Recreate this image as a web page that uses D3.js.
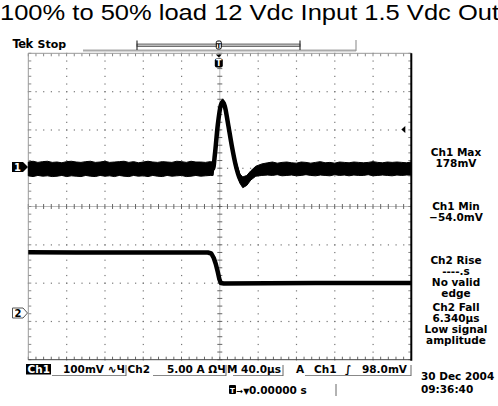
<!DOCTYPE html>
<html><head><meta charset="utf-8">
<script src="https://cdn.jsdelivr.net/npm/d3@7"></script>
<style>body{margin:0;background:#fff}svg{display:block}</style>
</head><body>
<svg id="c" width="498" height="406"></svg>
<script>
// ---- data ----
const title = "100% to 50% load 12 Vdc Input 1.5 Vdc Out";
// Ch1 (mV) envelope of noisy trace, time in µs (trigger at 0)
const ch1Time = [-200,-195,-190,-185,-180,-175,-170,-165,-160,-155,-150,-145,-140,-135,-130,-125,-120,-115,-110,-105,-100,-95,-90,-85,-80,-75,-70,-65,-60,-55,-50,-45,-40,-35,-30,-25,-20,-15,-10,
  -7,-5.2,-2.1,1.0,3.1,5.2,8.4,12.5,16.7,20.9,24.0,28.2,32.4,37.6,43.9,
  50,55,60,65,70,75,80,85,90,95,100,105,110,115,120,125,130,135,140,145,150,155,160,165,170,175,180,185,190,195,200];
const ch1Upper = [13,15,12,14,15,12,13,11,14,15,13,12,14,15,12,13,15,12,13,14,15,12,14,11,13,15,13,12,14,13,12,15,14,12,15,13,13,12,14,
  13,42,122,172,178,170,128,68,16,-18,-26,-22,-10,2,8,
  11,13,10,12,13,11,10,13,12,10,12,14,11,12,10,13,12,11,13,12,11,12,14,12,11,13,12,13,12,11,13];
const ch1Lower = [-23,-25,-22,-24,-23,-25,-24,-22,-25,-23,-24,-25,-22,-24,-25,-22,-24,-23,-25,-22,-24,-25,-22,-24,-23,-25,-22,-24,-25,-22,-24,-23,-22,-25,-24,-22,-24,-23,-22,
  -22,20,98,150,160,148,104,44,-8,-42,-54,-48,-34,-24,-22,
  -21,-22,-20,-23,-22,-21,-23,-22,-20,-22,-23,-21,-22,-23,-20,-22,-21,-23,-21,-22,-22,-20,-23,-22,-21,-22,-23,-21,-22,-21,-21];
// Ch2 (A)
const ch2Time = [-200,-150,-100,-50,-12.5,-8.9,-6.3,-4.2,-2.1,-0.5,1.0,4.2,50,100,150,200];
const ch2Amps = [7.92,7.90,7.91,7.90,7.90,7.77,7.18,6.40,5.35,4.44,3.92,3.86,3.90,3.91,3.92,3.92];
const trigLevel = 98; // mV
const measureLines = [["Ch1 Max","178mV"],["Ch1 Min","\u221254.0mV"],["Ch2 Rise","----.s","No valid","edge"],["Ch2 Fall","6.340\u00b5s","Low signal","amplitude"]];
const dateLines = ["30 Dec  2004","09:36:40"];

// ---- geometry ----
const L = 28.3, R = 411.3, T = 53.3, B = 359.7;
const div = (R - L) / 10;
const svg = d3.select("#c");
const x = d3.scaleLinear().domain([-200, 200]).range([L, R]);
const yDiv = d3.scaleLinear().domain([4, -4]).range([T, B]);
const ch1Zero = 167, ch2Zero = 313;
const y1 = d3.scaleLinear().domain([0, 100]).range([ch1Zero, ch1Zero - div]);
const y2 = d3.scaleLinear().domain([0, 5]).range([ch2Zero, ch2Zero - div]);
const font = "DejaVu Sans, sans-serif";

// title
svg.append("text").attr("x", 0).attr("y", 20).attr("font-family", "Liberation Sans, Arial, sans-serif")
  .attr("font-size", 22).attr("textLength", 499).attr("lengthAdjust", "spacingAndGlyphs").attr("fill", "#000").text(title);

// grid dots
const g = svg.append("g");
const majorT = d3.range(-200, 201, 40);
const minorT = d3.range(-200, 200.1, 8);
const majorV = d3.range(-4, 4.01, 1);
const minorV = d3.range(-4, 4.01, 0.2);
majorT.filter(t => t !== 0 && t !== -200 && t !== 200).forEach(t => {
  g.selectAll(null).data(minorV).enter().append("rect")
    .attr("x", x(t) - 0.5).attr("y", d => yDiv(d) - 0.5).attr("width", 1.2).attr("height", 1.2).attr("fill", "#777");
});
majorV.filter(v => v !== 0 && Math.abs(v) !== 4).forEach(v => {
  g.selectAll(null).data(minorT).enter().append("rect")
    .attr("x", d => x(d) - 0.5).attr("y", yDiv(v) - 0.5).attr("width", 1.2).attr("height", 1.2).attr("fill", "#777");
});
// center cross lines with ticks
g.append("line").attr("x1", L).attr("x2", R).attr("y1", yDiv(0)).attr("y2", yDiv(0)).attr("stroke", "#bbb").attr("stroke-width", 1);
g.append("line").attr("x1", x(0)).attr("x2", x(0)).attr("y1", T).attr("y2", B).attr("stroke", "#bbb").attr("stroke-width", 1);
g.selectAll(null).data(minorT).enter().append("line")
  .attr("x1", d => x(d)).attr("x2", d => x(d)).attr("y1", yDiv(0) - 2.5).attr("y2", yDiv(0) + 2.5).attr("stroke", "#666");
g.selectAll(null).data(minorV).enter().append("line")
  .attr("y1", d => yDiv(d)).attr("y2", d => yDiv(d)).attr("x1", x(0) - 2.5).attr("x2", x(0) + 2.5).attr("stroke", "#666");
// edge ticks
g.selectAll(null).data(minorT).enter().append("line")
  .attr("x1", d => x(d)).attr("x2", d => x(d)).attr("y1", T).attr("y2", T + 3).attr("stroke", "#888");
g.selectAll(null).data(minorT).enter().append("line")
  .attr("x1", d => x(d)).attr("x2", d => x(d)).attr("y1", B).attr("y2", B - 3).attr("stroke", "#666");
g.selectAll(null).data(minorV).enter().append("line")
  .attr("y1", d => yDiv(d)).attr("y2", d => yDiv(d)).attr("x1", L).attr("x2", L + 3).attr("stroke", "#888");
g.selectAll(null).data(minorV).enter().append("line")
  .attr("y1", d => yDiv(d)).attr("y2", d => yDiv(d)).attr("x1", R).attr("x2", R - 3).attr("stroke", "#888");
// frame
g.append("line").attr("x1", L).attr("x2", R).attr("y1", T).attr("y2", T).attr("stroke", "#999");
g.append("line").attr("x1", L).attr("x2", L).attr("y1", T).attr("y2", B).attr("stroke", "#999");
g.append("line").attr("x1", L).attr("x2", R).attr("y1", B).attr("y2", B).attr("stroke", "#444");
g.append("line").attr("x1", R).attr("x2", R).attr("y1", T).attr("y2", B + 1).attr("stroke", "#000").attr("stroke-width", 2);

// Ch1 trace (noise envelope)
const ch1 = ch1Time.map((t, i) => ({t, u: ch1Upper[i], l: ch1Lower[i]}));
svg.append("path").datum(ch1)
  .attr("d", d3.area().x(d => x(d.t)).y0(d => y1(d.l)).y1(d => y1(d.u)))
  .attr("fill", "#000").attr("stroke", "#000").attr("stroke-width", 1).attr("stroke-linejoin", "round");
svg.append("path").datum(ch1)
  .attr("d", d3.line().x(d => x(d.t)).y(d => y1((d.u + d.l) / 2)).curve(d3.curveMonotoneX))
  .attr("fill", "none").attr("stroke", "#000").attr("stroke-width", 4.5).attr("stroke-linejoin", "round");

// Ch2 trace
svg.append("path").datum(ch2Time.map((t, i) => ({t, a: ch2Amps[i]})))
  .attr("d", d3.line().x(d => x(d.t)).y(d => y2(d.a)))
  .attr("fill", "none").attr("stroke", "#000").attr("stroke-width", 4.5).attr("stroke-linejoin", "round");

// channel markers
const m1 = svg.append("g").attr("transform", `translate(0,${ch1Zero})`);
m1.append("path").attr("d", "M12,-5 H23 L28,0 L23,5 H12 Z").attr("fill", "#000");
m1.append("text").attr("x", 17.5).attr("y", 3.8).attr("text-anchor", "middle").attr("font-family", font).attr("font-weight", "bold").attr("font-size", 10).attr("fill", "#fff").text("1");
const m2 = svg.append("g").attr("transform", `translate(0,${ch2Zero})`);
m2.append("path").attr("d", "M12.5,-5 H23 L27.5,0 L23,5 H12.5 Z").attr("fill", "#fff").attr("stroke", "#555");
m2.append("text").attr("x", 18).attr("y", 3.8).attr("text-anchor", "middle").attr("font-family", font).attr("font-weight", "bold").attr("font-size", 10).attr("fill", "#000").text("2");
// trigger level marker
svg.append("path").attr("transform", `translate(${R - 10},${y1(trigLevel)})`).attr("d", "M0,0 L4,-3.5 L4,3.5 Z").attr("fill", "#000");
// trigger position marker (inside top)
const tx = x(0) - 1;
svg.append("path").attr("d", `M${tx - 3},54.5 L${tx + 3},54.5 L${tx},57.5 Z`).attr("fill", "#000");
svg.append("rect").attr("x", tx - 4).attr("y", 58.5).attr("width", 8).attr("height", 9).attr("rx", 2).attr("fill", "#000");
svg.append("text").attr("x", tx).attr("y", 66).attr("text-anchor", "middle").attr("font-family", font).attr("font-weight", "bold").attr("font-size", 8).attr("fill", "#fff").text("T");

// top bar
svg.append("text").attr("x", 12.5).attr("y", 48).attr("font-family", font).attr("font-weight", "bold").attr("font-size", 11.5).attr("letter-spacing", -0.5).text("Tek");
svg.append("text").attr("x", 37.5).attr("y", 48).attr("font-family", font).attr("font-weight", "bold").attr("font-size", 11).text("Stop");
svg.append("line").attr("x1", 83).attr("x2", 356).attr("y1", 50.5).attr("y2", 50.5).attr("stroke", "#aaa").attr("stroke-width", 2);
svg.append("line").attr("x1", 356).attr("x2", 356).attr("y1", 40).attr("y2", 51).attr("stroke", "#999").attr("stroke-width", 1.2);
svg.append("rect").attr("x", 137).attr("y", 44).attr("width", 163).attr("height", 2.5).attr("fill", "#bbb").attr("stroke", "#555").attr("stroke-width", 0.8);
svg.append("line").attr("x1", 137).attr("x2", 137).attr("y1", 40.5).attr("y2", 50).attr("stroke", "#333").attr("stroke-width", 1.2);
svg.append("line").attr("x1", 300).attr("x2", 300).attr("y1", 40.5).attr("y2", 50).attr("stroke", "#333").attr("stroke-width", 1.2);
svg.append("rect").attr("x", tx - 2.5).attr("y", 41).attr("width", 5).attr("height", 8).attr("rx", 1.5).attr("fill", "#fff").attr("stroke", "#000").attr("stroke-width", 1);
svg.append("text").attr("x", tx).attr("y", 47.8).attr("text-anchor", "middle").attr("font-family", font).attr("font-weight", "bold").attr("font-size", 6.5).text("T");

// status bar
const sb = svg.append("g").attr("font-family", font).attr("font-weight", "bold").attr("font-size", 10.5).attr("fill", "#000");
sb.append("rect").attr("x", 26).attr("y", 364).attr("width", 25).attr("height", 10.5).attr("fill", "#000");
sb.append("text").attr("x", 27.5).attr("y", 373).attr("fill", "#fff").text("Ch1");
sb.append("text").attr("x", 63).attr("y", 373).text("100mV \u223f\u0427");
sb.append("text").attr("x", 127.5).attr("y", 373).text("Ch2");
sb.append("text").attr("x", 167).attr("y", 373).text("5.00 A \u03a9\u0427");
sb.append("text").attr("x", 227).attr("y", 373).text("M 40.0\u00b5s");
sb.append("text").attr("x", 296).attr("y", 373).text("A");
sb.append("text").attr("x", 314).attr("y", 373).text("Ch1");
sb.append("text").attr("x", 345).attr("y", 373).text("\u222b");
sb.append("text").attr("x", 362).attr("y", 373).text("98.0mV");
const ul = [[52,126],[153,226],[233,283],[305,411]];
ul.forEach(([a, b]) => {
  sb.append("line").attr("x1", a).attr("x2", b).attr("y1", 375.5).attr("y2", 375.5).attr("stroke", "#888");
  sb.append("line").attr("x1", b).attr("x2", b).attr("y1", 365).attr("y2", 376).attr("stroke", "#666");
});
sb.append("rect").attr("x", 229).attr("y", 385).attr("width", 7).attr("height", 9).attr("rx", 1).attr("fill", "#000");
sb.append("text").attr("x", 232.5).attr("y", 392.5).attr("text-anchor", "middle").attr("font-size", 7).attr("fill", "#fff").text("T");
sb.append("text").attr("x", 236.5).attr("y", 393.5).attr("font-size", 8).text("\u2192\u25bc");
sb.append("text").attr("x", 249).attr("y", 394).text("0.00000 s");
sb.append("line").attr("x1", 336).attr("x2", 336).attr("y1", 384).attr("y2", 396).attr("stroke", "#666");

// measurement panel
const mp = svg.append("g").attr("font-family", font).attr("font-weight", "bold").attr("font-size", 10.5).attr("text-anchor", "middle");
const blockY = [152, 206, 260, 307];
measureLines.forEach((lines, bi) => {
  lines.forEach((s, li) => mp.append("text").attr("x", 456).attr("y", blockY[bi] + li * 11 + 3.5).text(s));
});
dateLines.forEach((s, i) => svg.append("text").attr("x", 421).attr("y", 380 + i * 13).attr("font-family", font).attr("font-weight", "bold").attr("font-size", 10.5).text(s));
</script>
</body></html>
